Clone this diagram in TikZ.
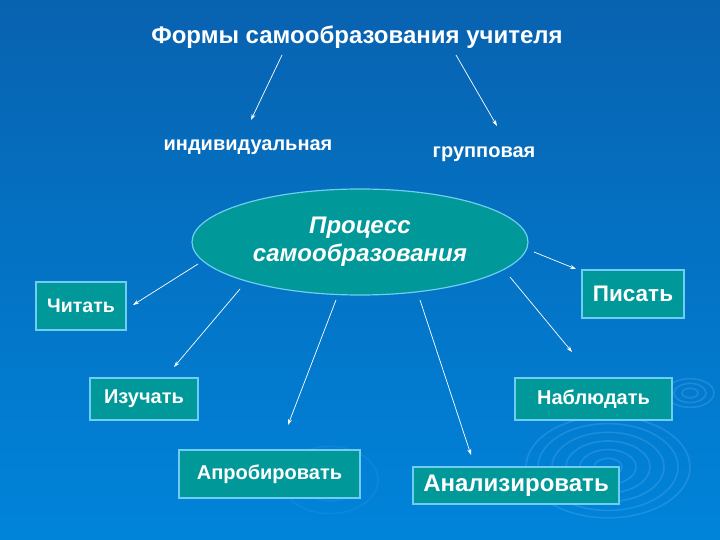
\documentclass[tikz,border=0pt]{standalone}
\usepackage{fontspec}
\setmainfont{Liberation Sans}
\usetikzlibrary{shapes.geometric,arrows.meta}
\definecolor{bgtop}{RGB}{8,98,176}
\definecolor{bgbot}{RGB}{0,132,218}
\definecolor{tealbox}{RGB}{0,152,152}
\definecolor{boxline}{RGB}{110,205,240}
\definecolor{ring}{RGB}{100,180,245}
\tikzset{
  lbl/.style={text=white,font=\bfseries},
  box/.style={draw=boxline,line width=1.6pt,fill=tealbox,text=white,font=\bfseries,inner sep=0pt},
  arr/.style={draw=white,line width=0.7pt,-{Stealth[length=6pt,width=4pt]}},
  rg/.style={draw=ring,line width=1.6pt,opacity=0.28}
}
\begin{document}
\begin{tikzpicture}[x=1pt,y=-1pt]
\shade[top color=bgtop,bottom color=bgbot] (0,0) rectangle (720,540);
\useasboundingbox (0,0) rectangle (720,540);
% background rings
\foreach \r in {14,28,42,56,70,82}{\draw[rg] (608,467) ellipse ({\r} and {0.62*\r});}
\foreach \r in {8,16,24}{\draw[rg] (690,393) ellipse ({\r} and {0.6*\r});}
\foreach \r in {30,48}{\draw[rg,opacity=0.12] (330,480) ellipse ({\r} and {0.7*\r});}
% title and forms
\node[lbl,font=\bfseries\fontsize{24}{28}\selectfont] (title) at (357,37) {Формы самообразования учителя};
\node[lbl,font=\bfseries\fontsize{20}{24}\selectfont] (ind) at (248,147) {индивидуальная};
\node[lbl,font=\bfseries\fontsize{20}{24}\selectfont] (grp) at (484,154) {групповая};
\coordinate (t1) at (282,55);
\coordinate (t2) at (456,55);
\coordinate (e1) at (251,120);
\coordinate (e2) at (497,126);
\draw[arr] (t1) -- (e1);
\draw[arr] (t2) -- (e2);
% central ellipse
\node[ellipse,draw=boxline,line width=1.2pt,fill=tealbox,minimum width=336,minimum height=106,inner sep=0pt,text=white,align=center,font=\bfseries\itshape\fontsize{24}{28}\selectfont] (proc) at (360,242) {Процесс\\самообразования};
% boxes
\node[box,minimum width=90,minimum height=48,font=\bfseries\fontsize{19.5}{22}\selectfont] (read) at (81,306) {Читать};
\node[box,minimum width=102,minimum height=48,font=\bfseries\fontsize{22.5}{26}\selectfont] (write) at (633,294) {Писать};
\node[box,minimum width=108,minimum height=42,font=\bfseries\fontsize{20}{24}\selectfont] (study) at (144,399) {Изучать};
\node[box,minimum width=157,minimum height=42,font=\bfseries\fontsize{20}{24}\selectfont] (obs) at (593.5,399) {Наблюдать};
\node[box,minimum width=181,minimum height=48,font=\bfseries\fontsize{20}{24}\selectfont] (test) at (269.5,474) {Апробировать};
\node[box,minimum width=206,minimum height=37,font=\bfseries\fontsize{24}{28}\selectfont] (anal) at (516,485.5) {Анализировать};
% arrow ends
\coordinate (s1) at (198,264); \coordinate (f1) at (133,305);
\coordinate (s2) at (240,289); \coordinate (f2) at (174,367);
\coordinate (s3) at (336,300); \coordinate (f3) at (288,425);
\coordinate (s4) at (420,300); \coordinate (f4) at (471,455);
\coordinate (s5) at (510,277); \coordinate (f5) at (572,352);
\coordinate (s6) at (534,252); \coordinate (f6) at (576,269);
\foreach \i in {1,...,6}{\draw[arr] (s\i) -- (f\i);}
\end{tikzpicture}
\end{document}
